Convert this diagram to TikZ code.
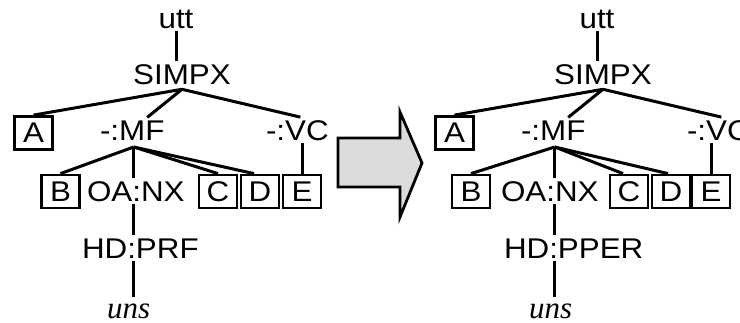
\documentclass[tikz,border=0pt]{standalone}
\usepackage{fontspec}
\setmainfont{Liberation Sans}[FakeStretch=1.1]
\newfontfamily\wordfont{Liberation Serif}
\usepackage{tikz}
\usetikzlibrary{positioning,calc}
\newcommand{\catfont}{\fontsize{28.5}{34}\selectfont}
\newcommand{\wordstyle}{\fontsize{31}{36}\selectfont\wordfont\itshape}
\definecolor{arrowgray}{RGB}{220,220,220}

\begin{document}
\begin{tikzpicture}[
  x=1pt, y=-1pt,
  lbl/.style={inner sep=0pt, outer sep=3pt, font=\catfont},
  cat/.style={draw, line width=2.8pt, minimum width=38pt, minimum height=33pt,
    inner sep=0pt, font=\catfont},
  word/.style={inner sep=0pt, outer sep=3pt, font=\wordstyle},
  branch/.style={line width=3pt}
]
  \useasboundingbox (0,0) rectangle (740,322);
  \clip (0,0) rectangle (740,322);

  % --- Left tree: before ---
  \node[lbl, anchor=base]       (lutt)   at (176,28)     {utt};
  \node[lbl, anchor=base]       (lsimpx) at (182,84)     {SIMPX};
  \node[cat]                    (la)     at (33.5,133)   {A};
  \node[lbl, anchor=base west]  (lmf)    at (97,140)     {-:MF};
  \node[lbl, anchor=base west]  (lvc)    at (263,140)    {-:VC};
  \node[cat]                    (lb)     at (60.5,191.5) {B};
  \node[lbl, anchor=base west]  (loanx)  at (84,201)     {OA:NX};
  \node[cat]                    (lc)     at (218,191.5)  {C};
  \node[cat]                    (ld)     at (260,191.5)  {D};
  \node[cat]                    (le)     at (302,191.5)  {E};
  \node[lbl, anchor=base west]  (lhd)    at (79,258)     {HD:PRF};
  \node[word, anchor=base west] (luns)   at (104,318)    {uns};

  \coordinate (lsj) at ([yshift=-2pt]lsimpx.south);
  \coordinate (lmj) at ([xshift=1.5pt,yshift=-4pt]lmf.south);

  % --- Left tree: branches ---
  \draw[branch] (lutt.south) -- (lutt.south |- lsimpx.north);
  \draw[branch] (lsj) -- (la.north);
  \draw[branch] (lsj) -- ([xshift=15pt]lmf.north);
  \draw[branch] (lsj) -- ([xshift=3pt]lvc.north);
  \draw[branch] (lmj) -- (lb.north);
  \draw[branch] (lmj) -- (lmj |- loanx.north);
  \draw[branch] (lmj) -- (lc.north);
  \draw[branch] (lmj) -- ([xshift=-6pt]ld.north);
  \draw[branch] (le.north |- lvc.south) -- (le.north);
  \draw[branch] (lmj |- loanx.south) -- (lmj |- lhd.north);
  \draw[branch] (lmj |- lhd.south) -- ([yshift=3pt]lmj |- luns.north);

  % --- Transformation arrow ---
  \draw[line width=2.8pt, fill=arrowgray] (338,138) -- (400,138) -- (400,112)
    -- (422,163) -- (400,217) -- (400,187) -- (338,187) -- cycle;

  % --- Right tree: after ---
  \node[lbl, anchor=base]       (rutt)   at (597,28)     {utt};
  \node[lbl, anchor=base]       (rsimpx) at (603,84)     {SIMPX};
  \node[cat]                    (ra)     at (454.5,133)  {A};
  \node[lbl, anchor=base west]  (rmf)    at (518,140)    {-:MF};
  \node[lbl, anchor=base west]  (rvc)    at (684,140)    {-:VC};
  \node[cat]                    (rb)     at (471,191.5)  {B};
  \node[lbl, anchor=base west]  (roanx)  at (498,201)    {OA:NX};
  \node[cat]                    (rc)     at (629,191.5)  {C};
  \node[cat]                    (rd)     at (671,191.5)  {D};
  \node[cat]                    (re)     at (711,191.5)  {E};
  \node[lbl, anchor=base west]  (rhd)    at (501,258)    {HD:PPER};
  \node[word, anchor=base west] (runs)   at (526,318)    {uns};

  \coordinate (rsj) at ([yshift=-2pt]rsimpx.south);
  \coordinate (rmj) at ([xshift=1.5pt,yshift=-4pt]rmf.south);

  % --- Right tree: branches ---
  \draw[branch] (rutt.south) -- (rutt.south |- rsimpx.north);
  \draw[branch] (rsj) -- (ra.north);
  \draw[branch] (rsj) -- ([xshift=15pt]rmf.north);
  \draw[branch] (rsj) -- ([xshift=3pt]rvc.north);
  \draw[branch] (rmj) -- (rb.north);
  \draw[branch] (rmj) -- (rmj |- roanx.north);
  \draw[branch] (rmj) -- ([xshift=-6pt]rc.north);
  \draw[branch] (rmj) -- ([xshift=-3pt]rd.north);
  \draw[branch] (re.north |- rvc.south) -- (re.north);
  \draw[branch] (rmj |- roanx.south) -- (rmj |- rhd.north);
  \draw[branch] (rmj |- rhd.south) -- ([yshift=3pt]rmj |- runs.north);
\end{tikzpicture}
\end{document}
